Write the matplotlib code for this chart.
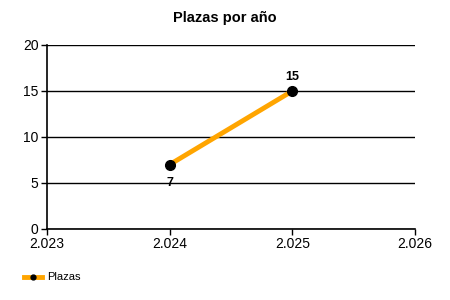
import matplotlib
matplotlib.use('Agg')
import matplotlib.pyplot as plt

plt.rcParams['font.family'] = ['Liberation Sans', 'DejaVu Sans']

# data
years = [2024, 2025]
plazas = [7, 15]
x_ticks = [2023, 2024, 2025, 2026]
x_labels = ['2.023', '2.024', '2.025', '2.026']
y_ticks = [0, 5, 10, 15, 20]

fig = plt.figure(figsize=(4.5, 3), dpi=100)
ax = fig.add_axes([0.1044, 0.2367, 0.8178, 0.6133])

line, = ax.plot(years, plazas, color='#FFA500', lw=3.5, marker='o',
                markersize=7, markerfacecolor='black', markeredgecolor='black',
                label='Plazas', zorder=3)

# point labels: first below, last above
ax.annotate(str(plazas[0]), (years[0], plazas[0]), xytext=(0, -9),
            textcoords='offset points', ha='center', va='top',
            fontsize=9, fontweight='bold')
ax.annotate(str(plazas[1]), (years[1], plazas[1]), xytext=(0, 6),
            textcoords='offset points', ha='center', va='bottom',
            fontsize=9, fontweight='bold')

ax.set_xlim(2023, 2026)
ax.set_ylim(0, 20)
ax.set_xticks(x_ticks)
ax.set_xticklabels(x_labels)
ax.set_yticks(y_ticks)
ax.tick_params(labelsize=10, length=4, width=1, pad=2)

ax.yaxis.grid(True, color='black', lw=1)
ax.set_axisbelow(True)
for s in ['top', 'right']:
    ax.spines[s].set_visible(False)
for s in ['left', 'bottom']:
    ax.spines[s].set_linewidth(1.2)

fig.text(0.5, 0.94, 'Plazas por año', ha='center', va='center',
         fontsize=10.5, fontweight='bold')

fig.legend(handles=[line], loc='lower left', bbox_to_anchor=(0.03, 0.025),
           frameon=False, fontsize=8, handlelength=1.7, handletextpad=0.4,
           markerscale=0.5)

fig.savefig('out.png', dpi=100)
